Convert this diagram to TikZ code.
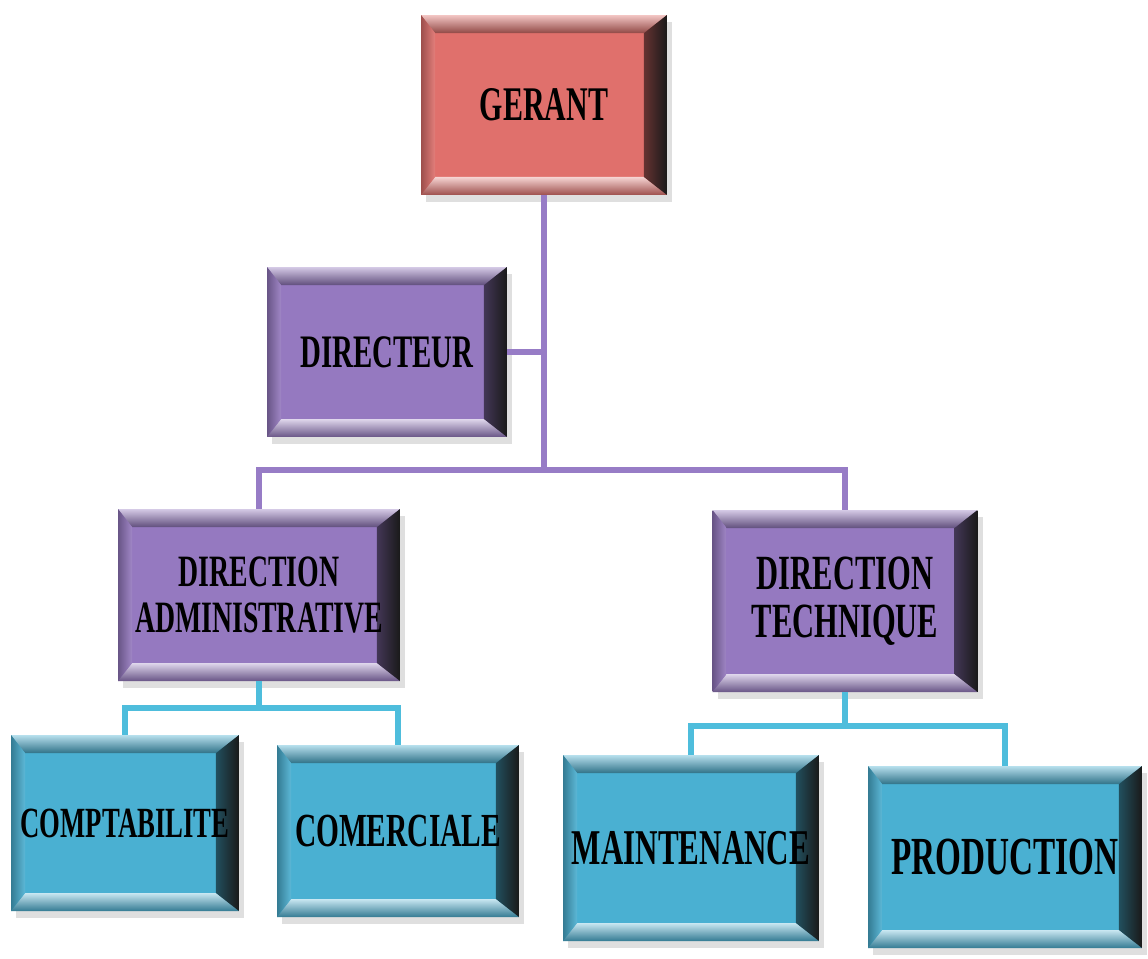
\documentclass[tikz,border=0pt]{standalone}
\usepackage{fontspec}
\usepackage{tikz}
\usetikzlibrary{shadows}

\newfontfamily\boxfont[FakeStretch=0.62]{Liberation Serif}

\definecolor{gerantred}{HTML}{E0706C}
\definecolor{dirpurple}{HTML}{9579C0}
\definecolor{servcyan}{HTML}{4AB0D2}
\definecolor{linepurple}{HTML}{977CC6}
\definecolor{linecyan}{HTML}{4EBDDC}

\tikzset{
	bevel/.style={
		fill=#1,
		drop shadow={opacity=0.25, shadow xshift=3pt, shadow yshift=-4pt},
		path picture={
			\path (path picture bounding box.north west) coordinate (bnw)
				(path picture bounding box.north east) coordinate (bne)
				(path picture bounding box.south west) coordinate (bsw)
				(path picture bounding box.south east) coordinate (bse);
			\path ([shift={(0.28cm,-0.36cm)}]bnw) coordinate (inw)
				([shift={(-0.46cm,-0.36cm)}]bne) coordinate (ine)
				([shift={(0.28cm,0.36cm)}]bsw) coordinate (isw)
				([shift={(-0.46cm,0.36cm)}]bse) coordinate (ise);
			\shade[top color=#1!40!white, bottom color=#1!65!black]
				(bnw) -- (bne) -- (ine) -- (inw) -- cycle;
			\shade[top color=#1!30!white, bottom color=#1!70!black]
				(bsw) -- (bse) -- (ise) -- (isw) -- cycle;
			\shade[left color=#1!70!black, right color=#1!90!white]
				(bnw) -- (inw) -- (isw) -- (bsw) -- cycle;
			\shade[left color=#1!45!black, right color=black!90]
				(bne) -- (ine) -- (ise) -- (bse) -- cycle;
		},
		font=\boxfont\bfseries\fontsize{27.5}{28}\selectfont,
		align=center, inner sep=0pt
	},
	redbox/.style={bevel=gerantred},
	purplebox/.style={bevel=dirpurple},
	cyanbox/.style={bevel=servcyan},
	purpleline/.style={draw=linepurple, line width=3.2pt},
	cyanline/.style={draw=linecyan, line width=3.2pt}
}

\begin{document}
\begin{tikzpicture}[x=0.02cm, y=-0.02cm]
	
	\fill[white] (0,0) rectangle (1148,958);
	\path[use as bounding box] (0,0) rectangle (1148,958);
	
	\node[redbox, minimum width=4.92cm, minimum height=3.6cm] (gerant) at (544,105) {GERANT};
	\node[purplebox, minimum width=4.8cm, minimum height=3.4cm, font=\boxfont\bfseries\fontsize{26.5}{27}\selectfont] (directeur) at (387,352) {DIRECTEUR};
	\node[purplebox, minimum width=5.64cm, minimum height=3.44cm, font=\boxfont\bfseries\fontsize{25.5}{26}\selectfont] (diradm) at (259,595) {DIRECTION\\ADMINISTRATIVE};
	\node[purplebox, minimum width=5.3cm, minimum height=3.64cm, font=\boxfont\bfseries\fontsize{28}{27}\selectfont] (dirtech) at (845,601) {DIRECTION\\TECHNIQUE};
	
	\node[cyanbox, minimum width=4.56cm, minimum height=3.52cm, font=\boxfont\bfseries\fontsize{24.5}{25}\selectfont] (compta) at (125,823) {COMPTABILITE};
	\node[cyanbox, minimum width=4.84cm, minimum height=3.44cm, font=\boxfont\bfseries\fontsize{27}{27}\selectfont] (comerc) at (398,831) {COMERCIALE};
	\node[cyanbox, minimum width=5.12cm, minimum height=3.72cm, font=\boxfont\bfseries\fontsize{28.5}{28}\selectfont] (maint) at (691,848) {MAINTENANCE};
	\node[cyanbox, minimum width=5.48cm, minimum height=3.64cm, font=\boxfont\bfseries\fontsize{30.5}{30}\selectfont] (prod) at (1005,857) {PRODUCTION};
	
	\coordinate (hub) at (544,470);
	\coordinate (admhub) at (259,708);
	\coordinate (techhub) at (845,726);
	
	\draw[purpleline] (gerant.south) -- (hub);
	\draw[purpleline] (directeur.east) -- (directeur.east -| hub);
	\draw[purpleline] (diradm.north) |- (hub) -| (dirtech.north);
	
	\draw[cyanline] (diradm.south) -- (admhub);
	\draw[cyanline] (compta.north) |- (admhub) -| (comerc.north);
	\draw[cyanline] (dirtech.south) -- (techhub);
	\draw[cyanline] (maint.north) |- (techhub) -| (prod.north);
	\end{tikzpicture}
\end{document}
